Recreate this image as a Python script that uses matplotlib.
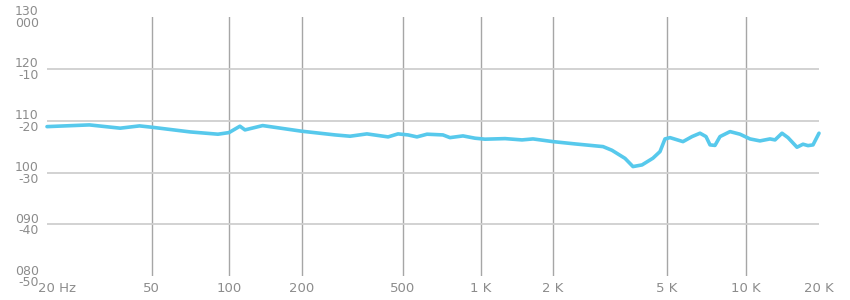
import matplotlib
matplotlib.use("Agg")
import matplotlib.pyplot as plt
import numpy as np

# frequency response (Hz, dB)
freq = [20, 29, 38, 45, 50, 70.6, 90.6, 100, 111, 116.5, 138, 200, 271, 310, 361,
        437, 478, 523, 566, 619, 713, 759, 852, 948, 1039, 1260, 1484, 1650, 2000,
        2387, 2990, 3213, 3568, 3804, 4090, 4466, 4726, 4920, 5134, 5758, 6237,
        6692, 7056, 7310, 7638, 7983, 8723, 9527, 10430, 11460, 12600, 13210,
        14110, 14930, 16250, 17200, 18030, 18900, 20000]
level = [108.84, 109.17, 108.54, 108.98, 108.73, 107.82, 107.38, 107.69, 108.92,
         108.21, 109.04, 107.96, 107.24, 106.99, 107.44, 106.86, 107.44, 107.24,
         106.86, 107.38, 107.24, 106.72, 107.05, 106.61, 106.42, 106.53, 106.28,
         106.47, 105.95, 105.51, 104.99, 104.28, 102.72, 101.14, 101.46, 102.76,
         104.03, 106.47, 106.72, 105.95, 106.92, 107.57, 106.92, 105.32, 105.22,
         106.92, 107.88, 107.38, 106.47, 106.09, 106.47, 106.28, 107.57, 106.72,
         104.87, 105.45, 105.18, 105.32, 107.57]

x_ticks = [20, 50, 100, 200, 500, 1000, 2000, 5000, 10000, 20000]
x_labels = ['20 Hz', '50', '100', '200', '500', '1 K', '2 K', '5 K', '10 K', '20 K']
y_ticks = [80, 90, 100, 110, 120, 130]
y_top = ['080', '090', '100', '110', '120', '130']
y_bottom = ['-50', '-40', '-30', '-20', '-10', '000']

# the original axis is not a pure log axis: tick spacing per decade is uneven
anchor_pos = [0, 104.5, 182, 254.5, 356, 434, 506, 620, 698.5, 772]
anchor_log = np.log10(x_ticks)

def fwd(f):
    lf = np.log10(np.clip(f, 1e-3, None))
    return np.interp(lf, anchor_log, anchor_pos)

def inv(p):
    return 10 ** np.interp(p, anchor_pos, anchor_log)

text_col = '#8c8c8c'
plt.rcParams['font.family'] = ['DejaVu Sans']

fig = plt.figure(figsize=(8.5, 3), dpi=100)
ax = fig.add_axes([47 / 850, 1 - 276.3 / 300, 772 / 850, 259.5 / 300])
ax.set_xscale('function', functions=(fwd, inv))
ax.set_xlim(20, 20000)
ax.set_ylim(80, 130)

for f in x_ticks[1:-1]:
    ax.axvline(f, color='#a6a6a6', lw=1.0, zorder=1)
for v in y_ticks[1:-1]:
    ax.axhline(v, color='#cfcfcf', lw=1.3, zorder=1)

ax.plot(freq, level, color='#57c9ec', lw=2.6, solid_joinstyle='round',
        solid_capstyle='round', zorder=3, clip_on=False)

for s in ax.spines.values():
    s.set_visible(False)

ax.set_xticks(x_ticks[1:])
ax.set_xticklabels(x_labels[1:])
ax.tick_params(axis='x', length=0, pad=4, labelsize=9.5, labelcolor=text_col)
ax.annotate(x_labels[0], xy=(x_ticks[0], 0), xycoords=('data', 'axes fraction'),
            xytext=(-9, -6), textcoords='offset pixels', ha='left', va='top',
            fontsize=9.5, color=text_col)

ax.set_yticks(y_ticks)
ax.set_yticklabels([a + '\n' + b for a, b in zip(y_top, y_bottom)],
                   linespacing=0.85)
ax.tick_params(axis='y', length=0, pad=6, labelsize=9, labelcolor=text_col)
ax.minorticks_off()

fig.savefig('out.png', dpi=100)
